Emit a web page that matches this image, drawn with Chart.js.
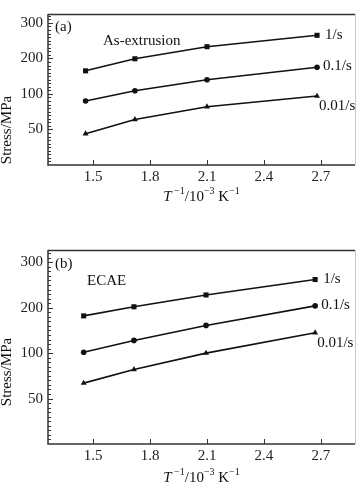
<!DOCTYPE html>
<html>
<head>
<meta charset="utf-8">
<script src="https://cdn.jsdelivr.net/npm/chart.js@4.4.0/dist/chart.umd.min.js"></script>
<style>
  body { margin: 0; background: #fff; width: 359px; height: 485px; position: relative; overflow: hidden; }
  canvas { position: absolute; left: 0; }
  #chart-a { top: 0; }
  #chart-b { top: 236px; }
</style>
</head>
<body>
<canvas id="chart-a" width="359" height="205"></canvas>
<canvas id="chart-b" width="359" height="249"></canvas>
<script>
// tick labels
const xTicks = [1.5, 1.8, 2.1, 2.4, 2.7];
const yTicks = [50, 100, 200, 300];
const rateLabels = ["1/s", "0.1/s", "0.01/s"];

// (a) as-extrusion
const invTempA = [1.46, 1.72, 2.1, 2.68];
const stressA_1 = [165, 199, 233, 265];
const stressA_01 = [90, 109, 140, 175];
const stressA_001 = [44, 64, 82, 97];

// (b) ECAE
const invTempB = [1.45, 1.715, 2.095, 2.67];
const stressB_1 = [182, 202, 228, 262];
const stressB_01 = [102, 128, 161, 204];
const stressB_001 = [67, 82, 100, 145];

const FONT = "'Liberation Serif', 'DejaVu Serif', serif";
const AXIS_COLOR = "#333";

// the stress axis is drawn with evenly spaced labels 50,100,200,300
const stops = [0].concat(yTicks);
function stressToPos(v) {
  for (let i = 1; i < stops.length; i++) {
    if (v <= stops[i]) return i - 1 + (v - stops[i - 1]) / (stops[i] - stops[i - 1]);
  }
  return stops.length - 1 + (v - 300) / 100;
}

// minor ticks along the stress axis
const yMinor = [];
for (let v = 5; v < 50; v += 5) yMinor.push(v);
for (let v = 55; v < 100; v += 5) yMinor.push(v);
for (let v = 110; v < 300; v += 10) if (v !== 200) yMinor.push(v);
yMinor.push(310, 320);

function makeData(xs, series) {
  const styles = [
    { pointStyle: "rect", pointRadius: 3.6 },
    { pointStyle: "circle", pointRadius: 2.8 },
    { pointStyle: "triangle", pointRadius: 3.4 },
  ];
  return {
    datasets: series.map((s, i) => ({
      label: rateLabels[i],
      data: xs.map((x, j) => ({ x: x, y: stressToPos(s[j]) })),
      borderColor: "#111",
      backgroundColor: "#111",
      borderWidth: 1.6,
      pointBorderWidth: 0,
      pointStyle: styles[i].pointStyle,
      pointRadius: styles[i].pointRadius,
      tension: 0,
    })),
  };
}

function drawXTitle(ctx, cx, cy) {
  const parts = [
    { t: "T", f: "italic 15px " + FONT, dy: 0 },
    { t: " \u22121", f: "10px " + FONT, dy: -6 },
    { t: "/10", f: "15px " + FONT, dy: 0 },
    { t: "\u22123", f: "10px " + FONT, dy: -6 },
    { t: " K", f: "15px " + FONT, dy: 0 },
    { t: "\u22121", f: "10px " + FONT, dy: -6 },
  ];
  let total = 0;
  parts.forEach((p) => {
    ctx.font = p.f;
    p.w = ctx.measureText(p.t).width;
    total += p.w;
  });
  let x = cx - total / 2;
  ctx.textBaseline = "middle";
  ctx.textAlign = "left";
  parts.forEach((p) => {
    ctx.font = p.f;
    ctx.fillText(p.t, x, cy + p.dy);
    x += p.w;
  });
}

function figurePlugin(cfg) {
  return {
    id: "figure" + cfg.tag,
    afterDraw(chart) {
      const ctx = chart.ctx;
      const area = chart.chartArea;
      const ys = chart.scales.y;
      const xs = chart.scales.x;
      ctx.save();

      // frame
      ctx.strokeStyle = AXIS_COLOR;
      ctx.lineWidth = 1.5;
      ctx.beginPath();
      ctx.moveTo(area.left, area.top + 0.5);
      ctx.lineTo(area.right, area.top + 0.5);
      ctx.moveTo(area.left, area.top);
      ctx.lineTo(area.left, area.bottom);
      ctx.lineTo(area.right, area.bottom);
      ctx.stroke();
      ctx.strokeStyle = "#c8c8c8";
      ctx.lineWidth = 1;
      ctx.beginPath();
      ctx.moveTo(area.right + 0.5, area.top);
      ctx.lineTo(area.right + 0.5, area.bottom);
      ctx.stroke();

      // inward ticks
      ctx.strokeStyle = AXIS_COLOR;
      ctx.lineWidth = 1;
      ctx.beginPath();
      xTicks.forEach((t) => {
        const px = Math.round(xs.getPixelForValue(t)) + 0.5;
        ctx.moveTo(px, area.bottom);
        ctx.lineTo(px, area.bottom - 5);
      });
      yTicks.forEach((t) => {
        const py = Math.round(ys.getPixelForValue(stressToPos(t))) + 0.5;
        ctx.moveTo(area.left, py);
        ctx.lineTo(area.left + 5, py);
      });
      yMinor.forEach((t) => {
        const py = Math.round(ys.getPixelForValue(stressToPos(t))) + 0.5;
        if (py < area.top || py > area.bottom - 1) return;
        ctx.moveTo(area.left, py);
        ctx.lineTo(area.left + 3, py);
      });
      ctx.stroke();

      ctx.fillStyle = "#111";
      ctx.textBaseline = "middle";
      ctx.textAlign = "left";
      ctx.font = "15px " + FONT;

      // end labels for each strain rate
      const offsets = [
        { dx: 8, dy: 0 },
        { dx: 6, dy: -1 },
        { dx: 2, dy: 10 },
      ];
      chart.data.datasets.forEach((ds, i) => {
        const pts = chart.getDatasetMeta(i).data;
        const last = pts[pts.length - 1];
        ctx.fillText(ds.label, last.x + offsets[i].dx, last.y + offsets[i].dy);
      });

      // panel tag and condition name
      ctx.fillText(cfg.tag, area.left + 7, area.top + cfg.tagDy);
      ctx.fillText(cfg.name, area.left + cfg.nameDx, area.top + cfg.nameDy);

      // y title
      ctx.save();
      ctx.translate(7, cfg.yTitleY);
      ctx.rotate(-Math.PI / 2);
      ctx.textAlign = "center";
      ctx.fillText("Stress/MPa", 0, 0);
      ctx.restore();

      // x title
      drawXTitle(ctx, (area.left + area.right) / 2, area.bottom + cfg.xTitleDy);

      ctx.restore();
    },
  };
}

function createPanel(canvasId, xs, series, cfg) {
  const ctx = document.getElementById(canvasId);
  return new Chart(ctx, {
    type: "line",
    data: makeData(xs, series),
    options: {
      responsive: false,
      animation: false,
      devicePixelRatio: 1,
      layout: { padding: { top: cfg.padTop, right: 2, left: 0, bottom: 0 } },
      plugins: { legend: { display: false }, tooltip: { enabled: false } },
      scales: {
        x: {
          type: "linear",
          min: 1.262,
          max: 2.88,
          afterBuildTicks: (scale) => {
            scale.ticks = xTicks.map((v) => ({ value: v }));
          },
          afterFit: (scale) => {
            scale.height = cfg.xHeight;
          },
          grid: { display: false, drawTicks: false },
          border: { display: false },
          ticks: {
            padding: 3,
            color: "#222",
            font: { family: FONT, size: 15 },
            callback: (v) => v.toFixed(1),
          },
        },
        y: {
          type: "linear",
          min: 0,
          max: cfg.yMax,
          afterBuildTicks: (scale) => {
            scale.ticks = yTicks.map((v) => ({ value: stressToPos(v) }));
          },
          afterFit: (scale) => {
            scale.width = 48;
          },
          grid: { display: false, drawTicks: false },
          border: { display: false },
          ticks: {
            padding: 5,
            color: "#222",
            font: { family: FONT, size: 15 },
            callback: (v) => {
              const i = Math.round(v) - 1;
              return yTicks[i] !== undefined ? String(yTicks[i]) : "";
            },
          },
        },
      },
    },
    plugins: [figurePlugin(cfg)],
  });
}

createPanel("chart-a", invTempA, [stressA_1, stressA_01, stressA_001], {
  tag: "(a)",
  name: "As-extrusion",
  tagDy: 13,
  nameDx: 55,
  nameDy: 27,
  padTop: 0,
  xHeight: 40,
  yMax: 4.25,
  yTitleY: 130,
  xTitleDy: 32,
});

createPanel("chart-b", invTempB, [stressB_1, stressB_01, stressB_001], {
  tag: "(b)",
  name: "ECAE",
  tagDy: 14,
  nameDx: 39,
  nameDy: 31,
  padTop: 6,
  xHeight: 41,
  yMax: 4.27,
  yTitleY: 136,
  xTitleDy: 34,
});
</script>
</body>
</html>
